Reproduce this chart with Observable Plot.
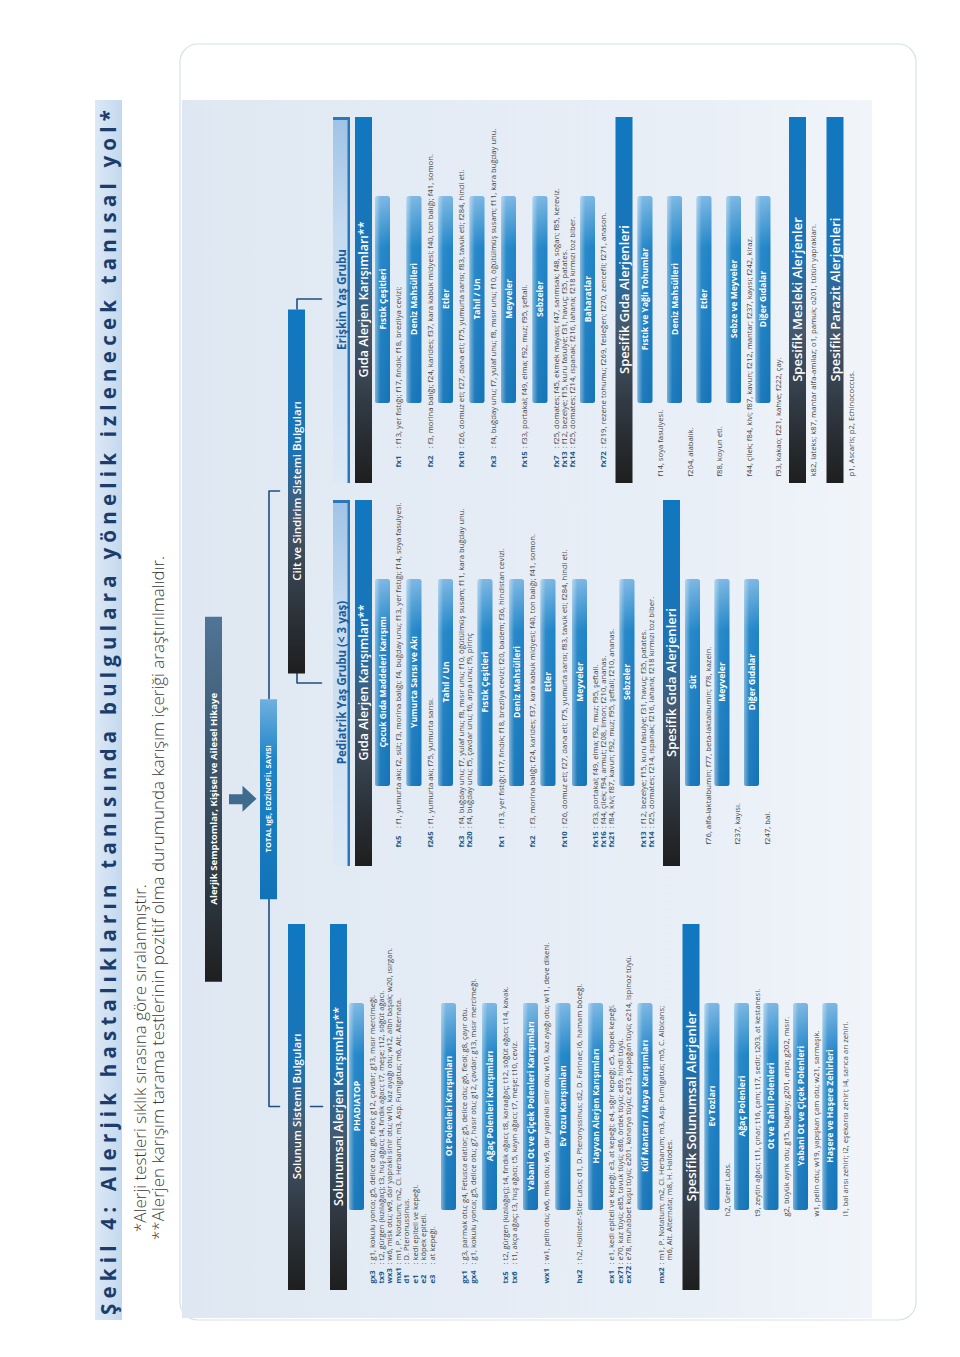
<!DOCTYPE html>
<html lang="tr">
<head>
<meta charset="utf-8">
<script src="https://cdn.jsdelivr.net/npm/d3@7"></script>
<script src="https://cdn.jsdelivr.net/npm/@observablehq/plot@0.6"></script>
<style>
html, body { margin:0; padding:0; background:#fff; }
body { width:960px; height:1357px; overflow:hidden; position:relative; font-family:"Open Sans", sans-serif; }
#rot { position:absolute; left:0; top:0; width:1357px; height:960px; transform-origin:0 0; transform: translate(0px, 1357px) rotate(-90deg); }
#title { position:absolute; left:37px; top:95px; width:1220px; height:27px; background: linear-gradient(to bottom, #dce9f6, #c3d8ee); }
#titleText { position:absolute; left:5px; top:0; line-height:27px; font-weight:700; font-size:20.5px; color:#1c3d6b; white-space:nowrap; }
.note { position:absolute; white-space:nowrap; font-size:14px; line-height:18px; color:#3a3a3a; font-weight:300; }
#chart { position:absolute; left:0; top:170px; }
</style>
</head>
<body>
<div id="rot">
  <div id="title"><span id="titleText"></span></div>
  <div class="note" id="note1"></div>
  <div class="note" id="note2"></div>
  <div id="chart"></div>
</div>
<script>
// ---------------- DATA ----------------
const titleText = "Şekil 4: Alerjik hastalıkların tanısında bulgulara yönelik izlenecek tanısal yol*";
const notes = [
  "*Alerji testleri sıklık sırasına göre sıralanmıştır.",
  "**Alerjen karışım tarama testlerinin pozitif olma durumunda karışım içeriği araştırılmalıdır."
];
const rootLabel = "Alerjik Semptomlar, Kişisel ve Ailesel Hikaye";
const testLabel = "TOTAL IgE, EOZİNOFİL SAYISI";
const systemLabels = ["Solunum Sistemi Bulguları", "Cilt ve Sindirim Sistemi Bulguları"];
const ageLabels = ["Pediatrik Yaş Grubu (< 3 yaş)", "Erişkin Yaş Grubu"];
const sectionTitles = {
  solMix: "Solunumsal Alerjen Karışımları**",
  solSpec: "Spesifik Solunumsal Alerjenler",
  foodMix: "Gıda Alerjen Karışımları**",
  foodSpec: "Spesifik Gıda Alerjenleri",
  occ: "Spesifik Mesleki Alerjenler",
  par: "Spesifik Parazit Alerjenleri"
};

const solunumMix = [
  ["PHADIATOP", [
    ["gx3", ": g1, kokulu yonca; g5, delice otu; g6, fleol; g12, çavdar; g13, mısır mercimeği."],
    ["tx9", ": t2, gürgen (kızılağaç); t3, huş ağacı; t4, fındık ağacı; t7, meşe; t12, söğüt ağacı."],
    ["wx3", ": w6, misk otu; w9, dar yapraklı sinir otu; w10, kaz ayağı otu; w12, altın başak; w20, ısırgan."],
    ["mx1", ": m1, P. Notatum; m2, Cl. Herbarum; m3, Asp. Fumigatus; m6, Alt. Alternata."],
    ["d1", ": D. Pteronussinus."],
    ["e1", ": kedi epiteli ve kepeği."],
    ["e2", ": köpek epiteli."],
    ["e3", ": at kepeği."]]],
  ["Ot Polenleri Karışımları", [
    ["gx1", ": g3, parmak otu; g4, Fetusca elatior; g5, delice otu; g6, fleol; g8, çayır otu."],
    ["gx4", ": g1, kokulu yonca; g5, delice otu; g7, hasır otu; g12, çavdar; g13, mısır mercimeği."]]],
  ["Ağaç Polenleri Karışımları", [
    ["tx5", ": t2, gürgen (kızılağaç); t4, fındık ağacı; t8, karaağaç; t12, söğüt ağacı; t14, kavak."],
    ["tx6", ": t1, akça ağaç; t3, huş ağacı; t5, kayın ağacı; t7, meşe; t10, ceviz."]]],
  ["Yabani Ot ve Çiçek Polenleri Karışımları", [
    ["wx1", ": w1, pelin otu; w6, misk otu; w9, dar yapraklı sinir otu; w10, kaz ayağı otu; w11, deve dikeni."]]],
  ["Ev Tozu Karışımları", [
    ["hx2", ": h2, Hollister-Stier Labs; d1, D. Pteronyssinus; d2, D. Farinae; i6, hamam böceği."]]],
  ["Hayvan Alerjen Karışımları", [
    ["ex1", ": e1, kedi epiteli ve kepeği; e3, at kepeği; e4, sığır kepeği; e5, köpek kepeği."],
    ["ex71", ": e70, kaz tüyü; e85, tavuk tüyü; e86, ördek tüyü; e89, hindi tüyü."],
    ["ex72", ": e78, muhabbet kuşu tüyü; e201, kanarya tüyü; e213, papağan tüyü; e214, ispinoz tüyü."]]],
  ["Küf Mantarı / Maya Karışımları", [
    ["mx2", ": m1, P. Notatum; m2, Cl. Herbarum; m3, Asp. Fumigatus; m5, C. Albicans;"],
    ["", "\u00a0\u00a0m6, Alt. Alternata; m8, H. Halodes."]]]
];
const solunumSpec = [
  ["Ev Tozları", ["h2, Greer Labs."]],
  ["Ağaç Polenleri", ["t9, zeytin ağacı; t11, çınar; t16, çam; t17, sedir; t203, at kestanesi."]],
  ["Ot ve Tahıl Polenleri", ["g2, büyük ayrık otu; g15, buğday; g201, arpa; g202, mısır."]],
  ["Yabani Ot ve Çiçek Polenleri", ["w1, pelin otu; w19, yapışkan çam otu; w21, sarmaşık."]],
  ["Haşere ve Haşere Zehirleri", ["i1, bal arısı zehiri; i2, eşekarısı zehiri; i4, sarıca arı zehiri."]]
];
const pedMix = [
  ["Çocuk Gıda Maddeleri Karışımı", [
    ["fx5", ": f1, yumurta akı; f2, süt; f3, morina balığı; f4, buğday unu; f13, yer fıstığı; f14, soya fasulyesi."]]],
  ["Yumurta Sarısı ve Akı", [["f245", ": f1, yumurta akı; f75, yumurta sarısı."]]],
  ["Tahıl / Un", [
    ["fx3", ": f4, buğday unu; f7, yulaf unu; f8, mısır unu; f10, öğütülmüş susam; f11, kara buğday unu."],
    ["fx20", ": f4, buğday unu; f5, çavdar unu; f6, arpa unu; f9, pirinç"]]],
  ["Fıstık Çeşitleri", [["fx1", ": f13, yer fıstığı; f17, fındık; f18, brezilya cevizi; f20, badem; f36, hindistan cevizi."]]],
  ["Deniz Mahsülleri", [["fx2", ": f3, morina balığı; f24, karides; f37, kara kabuk midyesi; f40, ton balığı; f41, somon."]]],
  ["Etler", [["fx10", ": f26, domuz eti; f27, dana eti; f75, yumurta sarısı; f83, tavuk eti; f284, hindi eti."]]],
  ["Meyveler", [
    ["fx15", ": f33, portakal; f49, elma; f92, muz; f95, şeftali."],
    ["fx16", ": f44, çilek; f94, armut; f208, limon; f210, ananas."],
    ["fx21", ": f84, kivi; f87, kavun; f92, muz; f95, şeftali; f210, ananas."]]],
  ["Sebzeler", [
    ["fx13", ": f12, bezelye; f15, kuru fasulye; f31, havuç; f35, patates."],
    ["fx14", ": f25, domates; f214, ıspanak; f216, lahana; f218 kırmızı toz biber."]]]
];
const pedSpec = [
  ["Süt", ["f76, alfa-laktalbumin; f77, beta-laktalbumin; f78, kazein."]],
  ["Meyveler", ["f237, kayısı."]],
  ["Diğer Gıdalar", ["f247, bal."]]
];
const adultMix = [
  ["Fıstık Çeşitleri", [["fx1", ": f13, yer fıstığı; f17, fındık; f18, brezilya cevizi;"]]],
  ["Deniz Mahsülleri", [["fx2", ": f3, morina balığı; f24, karides; f37, kara kabuk midyesi; f40, ton balığı; f41, somon."]]],
  ["Etler", [["fx10", ": f26, domuz eti; f27, dana eti; f75, yumurta sarısı; f83, tavuk eti; f284, hindi eti."]]],
  ["Tahıl / Un", [["fx3", ": f4, buğday unu; f7, yulaf unu; f8, mısır unu; f10, öğütülmüş susam; f11, kara buğday unu."]]],
  ["Meyveler", [["fx15", ": f33, portakal; f49, elma; f92, muz; f95, şeftali."]]],
  ["Sebzeler", [
    ["fx7", ": f25, domates; f45, ekmek mayası; f47, sarımsak; f48, soğan; f85, kereviz."],
    ["fx13", ": f12, bezelye; f15, kuru fasulye; f31, havuç; f35, patates."],
    ["fx14", ": f25, domates; f214, ıspanak; f216, lahana; f218 kırmızı toz biber."]]],
  ["Baharatlar", [["fx72", ": f219, rezene tohumu; f269, fesleğen; f270, zencefil; f271, anason."]]]
];
const adultSpec = [
  ["Fıstık ve Yağlı Tohumlar", ["f14, soya fasulyesi."]],
  ["Deniz Mahsülleri", ["f204, alabalık."]],
  ["Etler", ["f88, koyun eti."]],
  ["Sebze ve Meyveler", ["f44, çilek; f84, kivi; f87, kavun; f212, mantar; f237, kayısı; f242, kiraz."]],
  ["Diğer Gıdalar", ["f93, kakao; f221, kahve; f222, çay."]]
];
const occupationalLine = "k82, lateks; k87, mantar alfa-amilaz; o1, pamuk; o201, tütün yaprakları.";
const parasiteLine = "p1, Ascaris; p2, Echinococcus.";

// ---------------- LAYOUT (landscape frame, rotated later) ----------------
const W = 1357, H = 960, V0 = 170;
const LAY = {
  colStarts: [67, 491, 874], colW: 366, tabOff: 80, tabW: 207, tabH: 15, boxH: 17,
  systemRow: 288, ageRow: 333, topRow: 330, topRowHeader: 355,
  rootRow: 205, testRow: 260, connV: 268.5
};
const FONT = "Open Sans, sans-serif";
const ctx = document.createElement("canvas").getContext("2d");
const measure = (t, f) => { ctx.font = f; return ctx.measureText(t).width; };
const TAB_FONT = 8.6;

const columns = [
  {c0: LAY.colStarts[0], header: null, fs: 7.6, codeX: 6, codeGap: 1.5, specX: 73,
   mix: {first: 8.5, step: 8.5, tail: 9}, spec: {first: 8, step: 8, tail: 6.5},
   sections: [
     {title: sectionTitles.solMix, kind: "mix", groups: solunumMix, after: 2},
     {title: sectionTitles.solSpec, kind: "spec", groups: solunumSpec, after: 5}]},
  {c0: LAY.colStarts[1], header: ageLabels[0], fs: 7.7, codeX: 18, codeGap: 3, specX: 21,
   mix: {first: 8.5, step: 8, tail: 8}, spec: {first: 8, step: 8, tail: 6.5},
   sections: [
     {title: sectionTitles.foodMix, kind: "mix", groups: pedMix, after: 3},
     {title: sectionTitles.foodSpec, kind: "spec", groups: pedSpec, after: 5}]},
  {c0: LAY.colStarts[2], header: ageLabels[1], fs: 7.7, codeX: 15, codeGap: 3, specX: 6,
   mix: {first: 8.5, step: 8, tail: 8}, spec: {first: 8, step: 8, tail: 6.5},
   sections: [
     {title: sectionTitles.foodMix, kind: "mix", groups: adultMix, after: 3},
     {title: sectionTitles.foodSpec, kind: "spec", groups: adultSpec, after: 5},
     {title: sectionTitles.occ, kind: "single", line: occupationalLine},
     {title: sectionTitles.par, kind: "single", line: parasiteLine}]}
];

const darkBoxes = [], tabs = [], codes = [], contents = [], rich = [], headers = [];
for (const col of columns) {
  // content column starts right after the widest code of this column
  const codeW = d3.max(col.sections.filter(s => s.kind === "mix").flatMap(s => s.groups.flatMap(g => g[1].map(l => l[0]))),
                       c => measure(c, `700 ${col.fs}px ${FONT}`));
  const contentX = col.codeX + codeW + col.codeGap;
  let v = col.header ? LAY.topRowHeader : LAY.topRow;
  if (col.header) headers.push({u1: col.c0, u2: col.c0 + LAY.colW, v1: LAY.ageRow, v2: LAY.ageRow + 17, text: col.header});
  col.sections.forEach((sec, si) => {
    if (si > 0) v += 4;
    darkBoxes.push({u1: col.c0, u2: col.c0 + LAY.colW, v1: v, v2: v + LAY.boxH, text: sec.title,
                    size: sec.kind === "mix" ? 12.5 : 13});
    v += LAY.boxH;
    if (sec.kind === "single") {
      const cv = v + 7.5;
      rich.push({u: col.c0 + col.specX, v: cv, text: sec.line, fs: col.fs});
      v = cv + 9;
      return;
    }
    v += sec.after;
    const pp = col[sec.kind];
    for (const [tab, lines] of sec.groups) {
      const w = Math.max(LAY.tabW, measure(tab, `700 ${TAB_FONT}px ${FONT}`) + 16);
      tabs.push({u1: col.c0 + LAY.tabOff, u2: col.c0 + LAY.tabOff + w, v1: v, v2: v + LAY.tabH, text: tab});
      let cv = v + LAY.tabH + pp.first;
      lines.forEach((ln, i) => {
        if (sec.kind === "mix") {
          if (ln[0]) codes.push({u: col.c0 + col.codeX, v: cv, text: ln[0], fs: col.fs});
          contents.push({u: col.c0 + contentX, v: cv, text: ln[1], fs: col.fs});
        } else {
          rich.push({u: col.c0 + col.specX, v: cv, text: ln, fs: col.fs});
        }
        if (i < lines.length - 1) cv += pp.step;
      });
      v = cv + pp.tail;
    }
  });
}

// system boxes & root
const solCenter = LAY.colStarts[0] + LAY.colW / 2;
const ciltCenter = (LAY.colStarts[1] + LAY.colStarts[2] + LAY.colW) / 2;
const axisCenter = (solCenter + ciltCenter) / 2;
const systemBoxes = [
  {u1: LAY.colStarts[0], u2: LAY.colStarts[0] + LAY.colW, v1: LAY.systemRow, v2: LAY.systemRow + 17, text: systemLabels[0]},
  {u1: ciltCenter - 182, u2: ciltCenter + 182, v1: LAY.systemRow, v2: LAY.systemRow + 17, text: systemLabels[1]}
];
const rootBox = [{u1: axisCenter - 182.5, u2: axisCenter + 182.5, v1: LAY.rootRow, v2: LAY.rootRow + 17, text: rootLabel}];
const testBox = [{u1: axisCenter - 100, u2: axisCenter + 100, v1: LAY.testRow, v2: LAY.testRow + 17, text: testLabel}];
const ciltBox = systemBoxes[1];
const cv0 = LAY.systemRow + 8.5;
const connectors = [
  [[testBox[0].u1, LAY.connV], [solCenter, LAY.connV], [solCenter, LAY.systemRow - 9]],
  [[testBox[0].u2, LAY.connV], [ciltCenter, LAY.connV], [ciltCenter, LAY.systemRow - 9]],
  [[solCenter, LAY.systemRow + 22], [solCenter, LAY.systemRow + 34]],
  [[ciltBox.u1, cv0], [ciltBox.u1 - 10, cv0], [ciltBox.u1 - 10, LAY.ageRow - 12]],
  [[ciltBox.u2, cv0], [ciltBox.u2 + 10, cv0], [ciltBox.u2 + 10, LAY.ageRow - 12]]
].flatMap((pts, id) => pts.map(([u, v]) => ({u, v, id})));

const frame = [{u1: 37, u2: 1313, v1: 180, v2: 916}];
const panel = [{u1: 39, u2: 1257, v1: 182, v2: 872}];
const arrowShaft = [{u1: axisCenter - 5, u2: axisCenter + 5, v1: 229, v2: 243}];
const arrowHead = [{u: axisCenter, v: 242}];
const headSymbol = {draw(c) { c.moveTo(-13, 0); c.lineTo(13, 0); c.lineTo(0, 14); c.closePath(); }};

const R = {x1: "u1", x2: "u2", y1: "v1", y2: "v2"};
const ctr = d => (d.u1 + d.u2) / 2, mid = d => (d.v1 + d.v2) / 2;

const svg = Plot.plot({
  width: W, height: H - V0, margin: 0,
  x: {type: "linear", domain: [0, W], range: [0, W], axis: null},
  y: {type: "linear", domain: [V0, H], range: [0, H - V0], axis: null},
  style: {background: "transparent", fontFamily: FONT, overflow: "visible"},
  marks: [
    Plot.rect(frame, {...R, fill: "#ffffff", stroke: "#d7e1eb", strokeWidth: 1.2, rx: 18}),
    Plot.rect(panel, {...R, fill: "url(#gpanel)"}),
    Plot.line(connectors, {x: "u", y: "v", z: "id", stroke: "#1d4f82", strokeWidth: 1.6, curve: "linear"}),
    Plot.rect(rootBox, {...R, fill: "url(#groot)"}),
    Plot.rect(arrowShaft, {...R, fill: "#3f6b8f"}),
    Plot.dot(arrowHead, {x: "u", y: "v", symbol: headSymbol, fill: "#3f6b8f", stroke: "none", r: 10}),
    Plot.rect(testBox, {...R, fill: "url(#gtest)"}),
    Plot.rect(systemBoxes, {...R, fill: "url(#gdark)"}),
    Plot.rect(headers, {...R, fill: "url(#ghead)", rx: 2}),
    Plot.rect(headers, {x1: "u1", x2: "u2", y1: d => d.v2 - 2.5, y2: "v2", fill: "#2a78b9"}),
    Plot.rect(headers, {x1: d => d.u2 - 3, x2: "u2", y1: "v1", y2: "v2", fill: "#2a78b9"}),
    Plot.rect(darkBoxes, {...R, fill: "url(#gdark)"}),
    Plot.rect(tabs, {...R, fill: "url(#gtab)", rx: 2.5}),
    Plot.rect(tabs, {...R, fill: "url(#gshine)", rx: 2.5}),
    Plot.text(rootBox, {x: ctr, y: mid, text: "text", fill: "white", fontSize: 9.6, fontWeight: 700}),
    Plot.text(testBox, {x: ctr, y: mid, text: "text", fill: "white", fontSize: 7.6, fontWeight: 700}),
    Plot.text(systemBoxes, {x: ctr, y: mid, text: "text", fill: "white", fontSize: 11.5, fontWeight: 600}),
    Plot.text(headers, {x: ctr, y: mid, text: "text", fill: "#1b5c99", fontSize: 11.5, fontWeight: 700}),
    Plot.text(darkBoxes, {x: ctr, y: mid, text: "text", fill: "white", fontSize: "size", fontWeight: 600}),
    Plot.text(tabs, {x: ctr, y: mid, text: "text", fill: "white", fontSize: TAB_FONT, fontWeight: 700}),
    Plot.text(codes, {x: "u", y: "v", text: "text", textAnchor: "start", fill: "#1e5a89", fontSize: "fs", fontWeight: 700}),
    Plot.text(contents, {x: "u", y: "v", text: "text", textAnchor: "start", fill: "#474747", fontSize: "fs"}),
    Plot.text(rich, {x: "u", y: "v", text: "text", textAnchor: "start", fill: "#474747", fontSize: "fs", ariaLabel: "spec-lines"})
  ]
});

// gradients
const defs = d3.select(svg).insert("defs", ":first-child");
function grad(id, stops, x2 = 1, y2 = 0) {
  const g = defs.append("linearGradient").attr("id", id).attr("x1", 0).attr("y1", 0).attr("x2", x2).attr("y2", y2);
  for (const [o, c, op] of stops) g.append("stop").attr("offset", o).attr("stop-color", c).attr("stop-opacity", op ?? 1);
}
grad("gpanel", [[0, "#dfe8f2"], [0.75, "#e9eff7"], [1, "#f1f5fa"]], 0, 1);
grad("gdark", [[0, "#1e1e1e"], [0.2, "#2f3740"], [0.42, "#45596d"], [0.62, "#1c74b6"], [1, "#0f78c1"]]);
grad("groot", [[0, "#1f1f1f"], [0.35, "#33414f"], [1, "#4f7596"]]);
grad("gtest", [[0, "#1172b8"], [0.7, "#1f84c8"], [1, "#6fb0e0"]]);
grad("gtab", [[0, "#1474b8"], [0.75, "#1f84c7"], [1, "#79b6e3"]]);
grad("gshine", [[0, "#ffffff", 0.45], [0.35, "#ffffff", 0.05], [1, "#ffffff", 0]], 0, 1);
grad("ghead", [[0, "#dce9f6"], [0.7, "#c4daf0"], [1, "#9fc3e6"]]);

// bold codes inside specific-allergen lines
d3.select(svg).selectAll('g[aria-label="spec-lines"] text').each(function () {
  const t = this.textContent;
  const parts = t.split(/([a-z]\d+,)/);
  this.textContent = "";
  for (const p of parts) {
    if (!p) continue;
    const ts = d3.select(this).append("tspan").text(p);
    if (/^[a-z]\d+,$/.test(p)) ts.attr("font-weight", 700).attr("fill", "#1e5a89");
  }
});

document.getElementById("chart").appendChild(svg);

// title & notes (HTML, inside rotated frame)
const tt = document.getElementById("titleText");
tt.textContent = titleText;
const baseW = tt.scrollWidth;
tt.style.letterSpacing = Math.max(0, (1210 - baseW) / titleText.length) + "px";

const n1 = document.getElementById("note1"), n2 = document.getElementById("note2");
n1.textContent = notes[0]; n2.textContent = notes[1];
const fsN = 14 * 685 / n2.scrollWidth;
n1.style.fontSize = fsN + "px"; n2.style.fontSize = fsN + "px";
n1.style.left = "125px"; n1.style.top = "131px";
n2.style.left = "117px"; n2.style.top = "149px";
</script>
</body>
</html>
